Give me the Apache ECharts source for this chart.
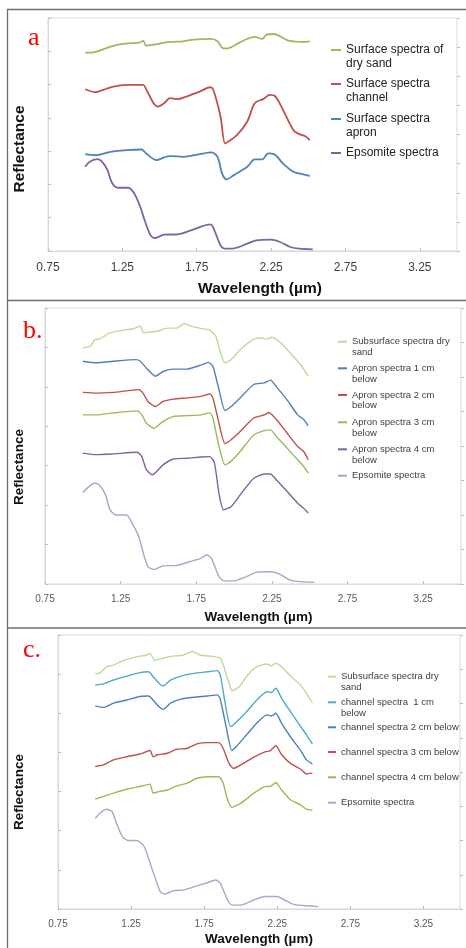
<!DOCTYPE html>
<html>
	<head>
		<meta charset="utf-8">
		<title>Reflectance spectra</title>
	</head>
	<body style="margin:0;background:#fff;">
		<div id="main" style="width: 466px;height:948px;"></div>
	</body>
	<script src="https://cdn.jsdelivr.net/npm/echarts@6.0.0/dist/echarts.min.js"></script>
	<script type="text/javascript">
		'use strict'

		// tick labels on the wavelength axis
		var xTicks = [0.75, 1.25, 1.75, 2.25, 2.75, 3.25];

		// panel a
		var aSandWl = [1.0, 1.04, 1.17, 1.25, 1.37, 1.39, 1.41, 1.46, 1.57, 1.66, 1.73, 1.85, 1.89, 1.93, 1.96, 2.04, 2.14, 2.19, 2.22, 2.27, 2.31, 2.36, 2.40, 2.47, 2.51];
		var aSandR = [5.96, 5.96, 6.14, 6.22, 6.27, 6.32, 6.17, 6.2, 6.28, 6.3, 6.35, 6.37, 6.3, 6.09, 6.09, 6.27, 6.43, 6.37, 6.5, 6.52, 6.45, 6.33, 6.3, 6.28, 6.3];
		var aChanWl = [1.0, 1.07, 1.12, 1.19, 1.28, 1.39, 1.41, 1.46, 1.49, 1.53, 1.57, 1.62, 1.68, 1.77, 1.84, 1.86, 1.91, 1.94, 1.96, 2.02, 2.09, 2.14, 2.20, 2.24, 2.28, 2.33, 2.40, 2.44, 2.48, 2.51];
		var aChanR = [4.86, 4.77, 4.84, 4.94, 4.99, 4.99, 4.86, 4.44, 4.34, 4.44, 4.59, 4.56, 4.64, 4.79, 4.92, 4.86, 4.04, 3.23, 3.28, 3.48, 3.89, 4.44, 4.57, 4.69, 4.64, 4.24, 3.63, 3.51, 3.45, 3.33];
		var aApronWl = [1.0, 1.07, 1.17, 1.28, 1.38, 1.41, 1.48, 1.53, 1.57, 1.66, 1.77, 1.85, 1.89, 1.92, 1.95, 2.00, 2.09, 2.14, 2.19, 2.23, 2.27, 2.33, 2.40, 2.46, 2.51];
		var aApronR = [2.91, 2.88, 2.98, 3.03, 3.05, 2.93, 2.73, 2.81, 2.85, 2.83, 2.91, 2.96, 2.83, 2.33, 2.15, 2.28, 2.53, 2.75, 2.75, 2.93, 2.91, 2.63, 2.38, 2.31, 2.26];
		var aEpsWl = [1.0, 1.03, 1.08, 1.11, 1.15, 1.18, 1.22, 1.29, 1.33, 1.37, 1.40, 1.44, 1.47, 1.53, 1.62, 1.71, 1.77, 1.84, 1.86, 1.91, 1.94, 2.00, 2.09, 2.15, 2.25, 2.31, 2.38, 2.44, 2.53];
		var aEpsR = [2.53, 2.68, 2.76, 2.70, 2.43, 2.05, 1.90, 1.90, 1.73, 1.33, 0.92, 0.47, 0.39, 0.49, 0.50, 0.62, 0.72, 0.80, 0.72, 0.17, 0.07, 0.08, 0.22, 0.32, 0.34, 0.27, 0.12, 0.07, 0.05];

		// panel b
		var bSandWl = [1.0, 1.05, 1.08, 1.11, 1.18, 1.27, 1.34, 1.38, 1.40, 1.42, 1.49, 1.56, 1.62, 1.67, 1.73, 1.80, 1.84, 1.88, 1.91, 1.94, 1.98, 2.04, 2.13, 2.18, 2.22, 2.25, 2.31, 2.37, 2.44, 2.49];
		var bSandR = [5.99, 6.03, 6.20, 6.21, 6.37, 6.44, 6.48, 6.54, 6.37, 6.38, 6.41, 6.49, 6.49, 6.60, 6.52, 6.47, 6.44, 6.28, 5.86, 5.61, 5.69, 5.94, 6.21, 6.24, 6.21, 6.26, 6.11, 5.86, 5.56, 5.27];
		var b1Wl = [1.0, 1.09, 1.20, 1.35, 1.38, 1.42, 1.48, 1.53, 1.60, 1.69, 1.78, 1.83, 1.86, 1.90, 1.94, 1.98, 2.04, 2.13, 2.20, 2.24, 2.28, 2.35, 2.42, 2.46, 2.49];
		var b1R = [5.65, 5.61, 5.65, 5.69, 5.65, 5.48, 5.27, 5.39, 5.45, 5.45, 5.55, 5.62, 5.52, 4.93, 4.40, 4.50, 4.72, 5.06, 5.10, 5.17, 5.00, 4.67, 4.29, 4.17, 4.01];
		var b2Wl = [1.0, 1.09, 1.20, 1.37, 1.40, 1.43, 1.48, 1.53, 1.60, 1.69, 1.78, 1.84, 1.86, 1.90, 1.94, 1.98, 2.04, 2.13, 2.20, 2.23, 2.28, 2.35, 2.42, 2.46, 2.49];
		var b2R = [4.86, 4.84, 4.86, 4.93, 4.83, 4.63, 4.50, 4.63, 4.69, 4.72, 4.76, 4.82, 4.72, 4.08, 3.56, 3.66, 3.87, 4.21, 4.29, 4.35, 4.17, 3.83, 3.49, 3.36, 3.15];
		var b3Wl = [1.0, 1.09, 1.20, 1.36, 1.39, 1.42, 1.47, 1.53, 1.60, 1.69, 1.78, 1.84, 1.86, 1.90, 1.94, 1.98, 2.04, 2.13, 2.20, 2.24, 2.28, 2.35, 2.42, 2.46, 2.49];
		var b3R = [4.29, 4.29, 4.34, 4.39, 4.29, 4.08, 3.95, 4.12, 4.25, 4.27, 4.29, 4.34, 4.21, 3.49, 3.02, 3.11, 3.36, 3.78, 3.89, 3.91, 3.74, 3.45, 3.15, 2.98, 2.81];
		var b4Wl = [1.0, 1.09, 1.20, 1.36, 1.39, 1.42, 1.46, 1.53, 1.60, 1.69, 1.78, 1.84, 1.87, 1.90, 1.93, 1.98, 2.04, 2.13, 2.20, 2.24, 2.28, 2.35, 2.42, 2.46, 2.49];
		var b4R = [3.32, 3.28, 3.30, 3.34, 3.23, 2.90, 2.77, 3.02, 3.17, 3.19, 3.22, 3.23, 3.07, 2.30, 1.88, 1.96, 2.26, 2.68, 2.79, 2.79, 2.64, 2.35, 2.05, 1.92, 1.80];
		var bEpsWl = [1.0, 1.04, 1.08, 1.11, 1.15, 1.18, 1.22, 1.29, 1.32, 1.37, 1.40, 1.43, 1.47, 1.53, 1.62, 1.71, 1.78, 1.82, 1.85, 1.90, 1.93, 2.00, 2.09, 2.15, 2.25, 2.31, 2.37, 2.44, 2.53];
		var bEpsR = [2.32, 2.47, 2.56, 2.51, 2.26, 1.88, 1.75, 1.75, 1.58, 1.20, 0.78, 0.44, 0.37, 0.46, 0.47, 0.57, 0.65, 0.74, 0.65, 0.19, 0.08, 0.08, 0.20, 0.30, 0.31, 0.23, 0.10, 0.06, 0.04];

		// panel c
		var cSandWl = [1.005, 1.04, 1.085, 1.13, 1.20, 1.27, 1.36, 1.38, 1.41, 1.44, 1.52, 1.61, 1.67, 1.72, 1.81, 1.86, 1.88, 1.92, 1.94, 1.99, 2.04, 2.11, 2.18, 2.21, 2.24, 2.28, 2.34, 2.41, 2.45, 2.49];
		var cSandR = [6.0, 6.04, 6.19, 6.23, 6.35, 6.43, 6.49, 6.53, 6.35, 6.38, 6.45, 6.49, 6.58, 6.49, 6.45, 6.41, 6.24, 5.77, 5.58, 5.68, 5.94, 6.19, 6.26, 6.21, 6.28, 6.19, 5.95, 5.72, 5.51, 5.27];
		var c1Wl = [1.005, 1.06, 1.13, 1.22, 1.31, 1.37, 1.40, 1.44, 1.47, 1.52, 1.59, 1.68, 1.77, 1.84, 1.86, 1.89, 1.93, 1.96, 2.03, 2.11, 2.18, 2.21, 2.24, 2.28, 2.34, 2.41, 2.45, 2.49];
		var c1R = [5.72, 5.75, 5.85, 5.95, 6.04, 6.06, 5.94, 5.77, 5.70, 5.85, 5.95, 6.02, 6.06, 6.09, 5.98, 5.34, 4.66, 4.74, 5.00, 5.34, 5.55, 5.53, 5.64, 5.38, 5.04, 4.66, 4.45, 4.22];
		var c2Wl = [1.005, 1.06, 1.13, 1.22, 1.31, 1.37, 1.40, 1.44, 1.47, 1.52, 1.59, 1.68, 1.77, 1.84, 1.86, 1.90, 1.94, 1.97, 2.04, 2.12, 2.18, 2.21, 2.24, 2.28, 2.34, 2.41, 2.45, 2.49];
		var c2R = [5.19, 5.15, 5.26, 5.34, 5.43, 5.44, 5.34, 5.17, 5.10, 5.26, 5.36, 5.41, 5.44, 5.47, 5.36, 4.66, 4.05, 4.15, 4.45, 4.79, 4.96, 4.93, 5.00, 4.74, 4.40, 4.05, 3.81, 3.71];
		var c3Wl = [1.005, 1.06, 1.13, 1.22, 1.31, 1.38, 1.40, 1.43, 1.50, 1.56, 1.63, 1.70, 1.77, 1.85, 1.88, 1.92, 1.95, 2.00, 2.09, 2.17, 2.20, 2.24, 2.28, 2.34, 2.41, 2.45, 2.49];
		var c3R = [3.64, 3.68, 3.81, 3.89, 3.96, 4.05, 3.89, 3.94, 3.98, 4.08, 4.10, 4.22, 4.25, 4.25, 4.10, 3.72, 3.59, 3.68, 3.88, 4.02, 4.04, 4.17, 3.94, 3.72, 3.57, 3.45, 3.47];
		var c4Wl = [1.005, 1.06, 1.13, 1.22, 1.31, 1.38, 1.40, 1.44, 1.50, 1.56, 1.63, 1.70, 1.77, 1.85, 1.88, 1.91, 1.94, 2.00, 2.09, 2.17, 2.20, 2.24, 2.28, 2.34, 2.41, 2.45, 2.49];
		var c4R = [2.81, 2.87, 2.96, 3.06, 3.13, 3.19, 2.96, 3.00, 3.04, 3.14, 3.21, 3.34, 3.38, 3.38, 3.21, 2.79, 2.60, 2.70, 2.96, 3.13, 3.13, 3.23, 3.04, 2.79, 2.66, 2.55, 2.53];
		var cEpsWl = [1.005, 1.04, 1.08, 1.12, 1.15, 1.19, 1.23, 1.29, 1.34, 1.38, 1.42, 1.45, 1.48, 1.54, 1.61, 1.70, 1.77, 1.83, 1.86, 1.91, 1.94, 2.00, 2.09, 2.16, 2.25, 2.30, 2.36, 2.43, 2.53];
		var cEpsR = [2.32, 2.46, 2.55, 2.49, 2.19, 1.85, 1.75, 1.75, 1.59, 1.17, 0.74, 0.44, 0.38, 0.47, 0.49, 0.59, 0.67, 0.74, 0.66, 0.23, 0.10, 0.10, 0.23, 0.32, 0.32, 0.23, 0.12, 0.09, 0.06];

		var font = 'Liberation Sans, Arial, sans-serif';

		// layout of the three panels (y1 = centre of the first legend line)
		var panels = [
			{
				letter: 'a', letterX: 28, letterY: 38,
				left: 48, top: 18, width: 409, height: 233,
				labelSize: 12, labelColor: '#404040', labelMargin: 11,
				titleSize: 15.5, xNameGap: 30, xNamePad: 15, yNameGap: 20, yNamePad: 29,
				lineWidth: 1.8, smooth: 0.3, legendLeft: 331, iconW: 10, legendSize: 12, legendLH: 13.3, legendColor: '#222',
				lines: [
					{name: 'Surface spectra of\ndry sand', color: '#9bbb59', wl: aSandWl, r: aSandR, y1: 50},
					{name: 'Surface spectra\nchannel', color: '#c0504d', wl: aChanWl, r: aChanR, y1: 84},
					{name: 'Surface spectra\napron', color: '#4f81bd', wl: aApronWl, r: aApronR, y1: 119},
					{name: 'Epsomite spectra', color: '#8064a2', wl: aEpsWl, r: aEpsR, y1: 153}
				]
			},
			{
				letter: 'b.', letterX: 23, letterY: 331,
				left: 45, top: 308, width: 416, height: 276,
				labelSize: 10, labelColor: '#595959', labelMargin: 10,
				titleSize: 13.5, xNameGap: 26, xNamePad: 11, yNameGap: 19, yNamePad: 42,
				lineWidth: 1.4, smooth: 0.2, legendLeft: 338, iconW: 9, legendSize: 9.5, legendLH: 10.7, legendColor: '#404040',
				lines: [
					{name: 'Subsurface spectra dry\nsand', color: '#c4d79b', wl: bSandWl, r: bSandR, y1: 341.7},
					{name: 'Apron spectra 1 cm\nbelow', color: '#4f81bd', wl: b1Wl, r: b1R, y1: 368.3},
					{name: 'Apron spectra 2 cm\nbelow', color: '#c0504d', wl: b2Wl, r: b2R, y1: 395},
					{name: 'Apron spectra 3 cm\nbelow', color: '#9bbb59', wl: b3Wl, r: b3R, y1: 422.3},
					{name: 'Apron spectra 4 cm\nbelow', color: '#8064a2', wl: b4Wl, r: b4R, y1: 449.3},
					{name: 'Epsomite spectra', color: '#b3a2c7', wl: bEpsWl, r: bEpsR, y1: 475.7}
				]
			},
			{
				letter: 'c.', letterX: 23, letterY: 650,
				left: 58, top: 635, width: 402, height: 274,
				labelSize: 10, labelColor: '#595959', labelMargin: 10,
				titleSize: 13.5, xNameGap: 23, xNamePad: 0, yNameGap: 32, yNamePad: 40,
				lineWidth: 1.4, smooth: 0.2, legendLeft: 328, iconW: 8, legendSize: 9.5, legendLH: 11, legendColor: '#404040',
				lines: [
					{name: 'Subsurface spectra dry\nsand', color: '#c4d79b', wl: cSandWl, r: cSandR, y1: 676.7},
					{name: 'channel spectra  1 cm\nbelow', color: '#4bacc6', wl: c1Wl, r: c1R, y1: 702.3},
					{name: 'channel spectra 2 cm below', color: '#4f81bd', wl: c2Wl, r: c2R, y1: 727.3},
					{name: 'channel spectra 3 cm below', color: '#c0504d', wl: c3Wl, r: c3R, y1: 752},
					{name: 'channel spectra 4 cm below', color: '#9bbb59', wl: c4Wl, r: c4R, y1: 777.3},
					{name: 'Epsomite spectra', color: '#b3a2c7', wl: cEpsWl, r: cEpsR, y1: 802.7}
				]
			}
		];

		function zip(wl, r) {
			var out = [];
			for (var i = 0; i < wl.length; i++) {
				out.push([wl[i], r[i]]);
			}
			return out;
		}

		// only every second 0.25 step carries a label
		function tickLabel(v) {
			var k = (v - 0.75) / 0.5;
			if (Math.abs(k - Math.round(k)) > 1e-6) return '';
			return v.toFixed(2);
		}

		var grids = [], xAxes = [], yAxes = [], series = [], legends = [], graphics = [];

		panels.forEach(function (p, i) {
			grids.push({
				left: p.left, top: p.top, width: p.width, height: p.height,
				show: true, borderColor: '#d9d9d9', borderWidth: 1
			});
			xAxes.push({
				type: 'value', gridIndex: i, position: 'bottom',
				min: 0.75, max: 3.5, interval: 0.25,
				name: 'Wavelength (µm)', nameLocation: 'middle', nameGap: p.xNameGap,
				nameTextStyle: {
					fontFamily: font, fontSize: p.titleSize, fontWeight: 'bold', color: '#111',
					padding: [0, 0, 0, p.xNamePad]
				},
				axisLine: {show: true, lineStyle: {color: '#d9d9d9'}},
				axisTick: {show: true, inside: true, length: 3, customValues: xTicks, lineStyle: {color: '#bfbfbf'}},
				axisLabel: {
					customValues: xTicks, formatter: tickLabel, margin: p.labelMargin,
					fontFamily: font, fontSize: p.labelSize, color: p.labelColor
				},
				splitLine: {show: false}
			});
			xAxes.push({
				type: 'value', gridIndex: i, position: 'top',
				min: 0.75, max: 3.5, interval: 0.25,
				axisLine: {show: false},
				axisTick: {show: true, length: 3, customValues: xTicks, lineStyle: {color: '#bfbfbf'}},
				axisLabel: {show: false},
				splitLine: {show: false}
			});
			yAxes.push({
				type: 'value', gridIndex: i, position: 'left',
				min: 0, max: 7, interval: 1,
				name: 'Reflectance', nameLocation: 'middle', nameRotate: 90, nameGap: p.yNameGap,
				nameTextStyle: {
					fontFamily: font, fontSize: p.titleSize, fontWeight: 'bold', color: '#111',
					padding: [0, p.yNamePad, 0, 0]
				},
				axisLine: {show: true, lineStyle: {color: '#d9d9d9'}},
				axisTick: {show: true, inside: true, length: 3, lineStyle: {color: '#bfbfbf'}},
				axisLabel: {show: false},
				splitLine: {show: false}
			});
			yAxes.push({
				type: 'value', gridIndex: i, position: 'right',
				min: 0, max: 8, interval: 1,
				axisLine: {show: false},
				axisTick: {show: true, length: 3, lineStyle: {color: '#bfbfbf'}},
				axisLabel: {show: false},
				splitLine: {show: false}
			});

			p.lines.forEach(function (s, j) {
				series.push({
					id: 'p' + i + 's' + j,
					name: s.name,
					type: 'line',
					xAxisIndex: 2 * i,
					yAxisIndex: 2 * i,
					data: zip(s.wl, s.r),
					symbol: 'none',
					smooth: p.smooth,
					color: s.color,
					lineStyle: {color: s.color, width: p.lineWidth}
				});

				// one legend per entry, so each sits exactly where the figure puts it
				var twoLines = s.name.indexOf('\n') >= 0;
				var L = p.legendLH;
				legends.push({
					data: [{name: s.name, itemStyle: {color: s.color}}],
					orient: 'vertical',
					left: p.legendLeft,
					top: twoLines ? s.y1 - 1.5 * L : s.y1 - L / 2,
					padding: 0,
					icon: 'rect',
					itemWidth: p.iconW,
					itemHeight: 2,
					selectedMode: false,
					formatter: function (name) {
						// blank first line keeps the icon level with the first text line
						return name.indexOf('\n') >= 0 ? '\n' + name : name;
					},
					textStyle: {fontFamily: font, fontSize: p.legendSize, lineHeight: L, color: p.legendColor}
				});
			});

			graphics.push({
				type: 'text', x: p.letterX, y: p.letterY,
				style: {
					text: p.letter, fill: '#ff0000',
					font: '26px "Liberation Serif", "Times New Roman", serif',
					verticalAlign: 'middle'
				}
			});
		});

		// frame lines of the figure
		var frameColor = '#6e6e6e';
		[9.5, 300.5, 628].forEach(function (y) {
			graphics.push({type: 'line', shape: {x1: 7, y1: y, x2: 466, y2: y}, style: {stroke: frameColor, lineWidth: 1.3}});
		});
		graphics.push({type: 'line', shape: {x1: 7.5, y1: 9, x2: 7.5, y2: 948}, style: {stroke: frameColor, lineWidth: 1.3}});

		var myChart = echarts.init(document.getElementById('main'));
		var option = {
			animation: false,
			backgroundColor: '#fff',
			grid: grids,
			xAxis: xAxes,
			yAxis: yAxes,
			legend: legends,
			series: series,
			graphic: graphics
		};
		myChart.setOption(option);
	</script>
</html>
